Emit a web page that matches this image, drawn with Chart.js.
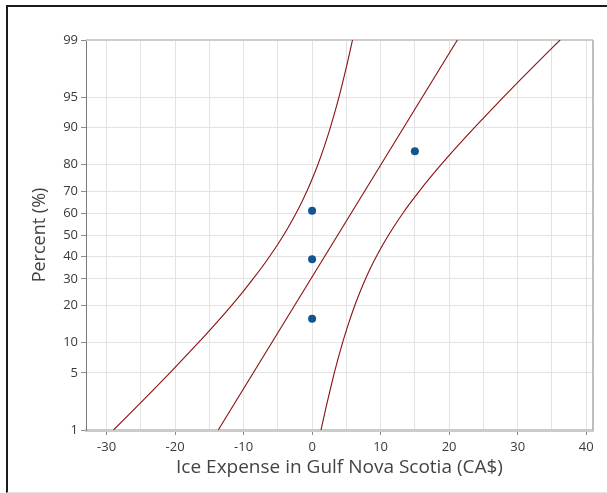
<!DOCTYPE html>
<html>
<head>
<meta charset="utf-8">
<script src="https://cdn.jsdelivr.net/npm/chart.js@4/dist/chart.umd.min.js"></script>
<style>
  body { margin: 0; background: #fff; }
  #frame {
    position: absolute; left: 6px; top: 5px; width: 620px; height: 485px;
    border-left: 2px solid #1b1b1b; border-top: 2px solid #1b1b1b;
    border-bottom: 1px solid #e2e2e2;
  }
  #probability-chart { position: absolute; left: 0; top: 0; }
</style>
</head>
<body>
<div id="frame"></div>
<canvas id="probability-chart" width="607" height="493"></canvas>
<script>
const ctx = document.getElementById("probability-chart").getContext("2d");

// Observations and their plotting positions (%)
let expenseValues = [0, 0, 0, 15];
let percentRanks = [15.9, 38.6, 61.4, 84.1];

// Fitted normal line, end points
let fitPercents = [1, 99];
let fitValues = [-13.7, 21.2];

// Confidence bands, sampled along the percent axis
let bandPercents = [1, 2, 5, 10, 15, 20, 25, 30, 35, 40, 45, 50, 55, 60, 65, 70, 75, 80, 85, 90, 95, 98, 99];
let lowerBand = [-28.99, -25.66, -20.76, -16.56, -13.84, -11.77, -10.07, -8.62, -7.33, -6.18, -5.12, -4.15,
                 -3.24, -2.38, -1.55, -0.75, 0.04, 0.85, 1.70, 2.66, 3.92, 5.15, 5.90];
let upperBand = [1.30, 2.04, 3.24, 4.46, 5.40, 6.23, 7.02, 7.79, 8.58, 9.40, 10.26, 11.17,
                 12.14, 13.20, 14.36, 15.66, 17.13, 18.85, 20.94, 23.69, 27.92, 32.84, 36.20];

// Axis ticks
let percentTicks = [1, 5, 10, 20, 30, 40, 50, 60, 70, 80, 90, 95, 99];
let expenseLabelStep = 10;

let lineColor = "#8b1111";
let pointColor = "#14558f";
let gridColor = "#e3e3e3";
let tickTextColor = "#3a3a3a";
let titleColor = "#444444";

// inverse of the standard normal CDF (Acklam)
function probit(p) {
  const a = [-39.69683028665376, 220.9460984245205, -275.9285104469687, 138.3577518672690, -30.66479806614716, 2.506628277459239];
  const b = [-54.47609879822406, 161.5858368580409, -155.6989798598866, 66.80131188771972, -13.28068155288572];
  const c = [-0.007784894002430293, -0.3223964580411365, -2.400758277161838, -2.549732539343734, 4.374664141464968, 2.938163982698783];
  const d = [0.007784695709041462, 0.3224671290700398, 2.445134137142996, 3.754408661907416];
  const pl = 0.02425;
  let q, r;
  if (p < pl) {
    q = Math.sqrt(-2 * Math.log(p));
    return (((((c[0]*q+c[1])*q+c[2])*q+c[3])*q+c[4])*q+c[5]) / ((((d[0]*q+d[1])*q+d[2])*q+d[3])*q+1);
  }
  if (p > 1 - pl) {
    q = Math.sqrt(-2 * Math.log(1 - p));
    return -(((((c[0]*q+c[1])*q+c[2])*q+c[3])*q+c[4])*q+c[5]) / ((((d[0]*q+d[1])*q+d[2])*q+d[3])*q+1);
  }
  q = p - 0.5; r = q * q;
  return (((((a[0]*r+a[1])*r+a[2])*r+a[3])*r+a[4])*r+a[5])*q / (((((b[0]*r+b[1])*r+b[2])*r+b[3])*r+b[4])*r+1);
}

// Normal probability axis: values are percents, spacing follows the normal quantile
class ProbitScale extends Chart.LinearScale {
  determineDataLimits() {
    this.min = this.options.min;
    this.max = this.options.max;
  }
  buildTicks() {
    return percentTicks.map(v => ({ value: v }));
  }
  configure() {
    super.configure();
    this._zMin = probit(this.min / 100);
    this._zMax = probit(this.max / 100);
  }
  getPixelForValue(value) {
    const z = probit(value / 100);
    return this.getPixelForDecimal((z - this._zMin) / (this._zMax - this._zMin));
  }
  getValueForPixel(pixel) {
    const z = this._zMin + this.getDecimalForPixel(pixel) * (this._zMax - this._zMin);
    let lo = 0.0001, hi = 99.9999;
    for (let i = 0; i < 60; i++) {
      const mid = (lo + hi) / 2;
      if (probit(mid / 100) < z) lo = mid; else hi = mid;
    }
    return (lo + hi) / 2;
  }
}
ProbitScale.id = "probit";
ProbitScale.defaults = {};
Chart.register(ProbitScale);

// top and right edges of the plot box
const plotFrame = {
  id: "plotFrame",
  beforeDatasetsDraw(chart) {
    const { ctx, chartArea: a } = chart;
    ctx.save();
    ctx.strokeStyle = "#cdcdcd";
    ctx.lineWidth = 2;
    ctx.beginPath();
    ctx.moveTo(a.left, a.top);
    ctx.lineTo(a.right, a.top);
    ctx.stroke();
    ctx.strokeStyle = "#a8a8a8";
    ctx.lineWidth = 1.5;
    ctx.beginPath();
    ctx.moveTo(a.right, a.top);
    ctx.lineTo(a.right, a.bottom);
    ctx.stroke();
    ctx.restore();
  }
};

const pairs = (xs, ys) => xs.map((x, i) => ({ x: x, y: ys[i] }));

const curveStyle = {
  showLine: true,
  borderColor: lineColor,
  borderWidth: 1.1,
  pointRadius: 0,
  tension: 0.2,
  fill: false,
};

const data = {
  datasets: [
    Object.assign({ label: "Lower bound", data: pairs(lowerBand, bandPercents) }, curveStyle),
    Object.assign({ label: "Fit", data: pairs(fitValues, fitPercents) }, curveStyle, { tension: 0 }),
    Object.assign({ label: "Upper bound", data: pairs(upperBand, bandPercents) }, curveStyle),
    {
      label: "Ice Expense",
      data: pairs(expenseValues, percentRanks),
      showLine: false,
      pointRadius: 4,
      pointBackgroundColor: pointColor,
      pointBorderColor: pointColor,
      pointBorderWidth: 0,
    },
  ],
};

const options = {
  responsive: false,
  animation: false,
  layout: { padding: { top: 40, right: 14, left: 0, bottom: 0 } },
  plugins: {
    legend: { display: false },
    tooltip: { enabled: false },
  },
  scales: {
    x: {
      type: "linear",
      min: -33,
      max: 41,
      ticks: {
        stepSize: 5,
        includeBounds: false,
        autoSkip: false,
        maxRotation: 0,
        padding: 4,
        color: tickTextColor,
        font: { family: "'Open Sans'", size: 13 },
        callback: v => (v % expenseLabelStep === 0 ? String(v) : ""),
      },
      grid: {
        color: gridColor,
        lineWidth: 1,
        tickLength: 5,
        tickColor: c => (c.tick && c.tick.value % expenseLabelStep === 0 ? "#8a8a8a" : "rgba(0,0,0,0)"),
      },
      border: { color: "#cbcbcb", width: 3 },
      title: {
        display: true,
        text: "Ice Expense in Gulf Nova Scotia (CA$)",
        color: titleColor,
        font: { family: "'Open Sans'", size: 19 },
        padding: { top: 2, bottom: 14 },
      },
      afterFit: scale => { scale.height = 63; },
    },
    y: {
      type: "probit",
      position: "left",
      min: 1,
      max: 99,
      ticks: {
        autoSkip: false,
        padding: 3,
        color: tickTextColor,
        font: { family: "'Open Sans'", size: 13 },
        callback: v => String(v),
      },
      grid: {
        color: gridColor,
        lineWidth: 1,
        tickLength: 5,
        tickColor: "#8a8a8a",
      },
      border: { color: "#7a7a7a", width: 1 },
      title: {
        display: true,
        text: "Percent (%)",
        color: titleColor,
        font: { family: "'Open Sans'", size: 18 },
        padding: { top: 29, bottom: 0 },
      },
      afterFit: scale => { scale.width = 86; },
    },
  },
};

const config = {
  type: "scatter",
  data: data,
  options: options,
  plugins: [plotFrame],
};

new Chart(ctx, config);
</script>
</body>
</html>
